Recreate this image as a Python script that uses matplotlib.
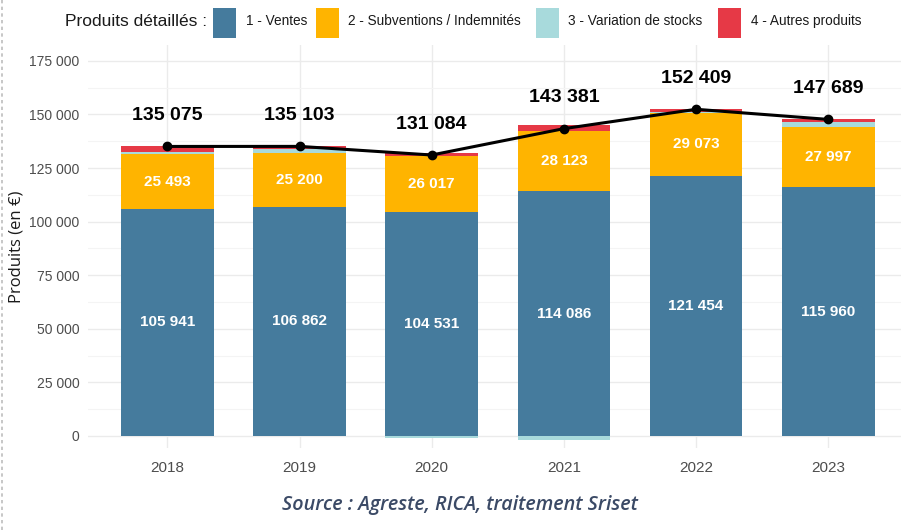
import matplotlib
matplotlib.use("Agg")
import matplotlib.pyplot as plt
from matplotlib.patches import Rectangle
from matplotlib.lines import Line2D
import numpy as np

years = ["2018", "2019", "2020", "2021", "2022", "2023"]
ventes = [105941, 106862, 104531, 114086, 121454, 115960]
subventions = [25493, 25200, 26017, 28123, 29073, 27997]
stocks = [900, 1800, -1000, -1900, 400, 2500]
autres = [2741, 1241, 1536, 3072, 1482, 1232]
totals = [135075, 135103, 131084, 143381, 152409, 147689]
series_names = ["1 - Ventes", "2 - Subventions / Indemnités", "3 - Variation de stocks", "4 - Autres produits"]
colors = ["#457b9d", "#ffb400", "#a8dadc", "#e63946"]
yticks = [0, 25000, 50000, 75000, 100000, 125000, 150000, 175000]

def fmt(v):
    return f"{v:,}".replace(",", " ")

W, H = 901, 530
fig = plt.figure(figsize=(W / 100, H / 100), dpi=100)
# axes in pixel coords: left 88, right 901, top 45, bottom 448
ax = fig.add_axes([88 / W, 1 - 448 / H, (901 - 88) / W, (448 - 45) / H])

x = np.arange(len(years))
bw = 0.7
v = np.array(ventes); s = np.array(subventions); st = np.array(stocks); au = np.array(autres)
ax.bar(x, v, bw, color=colors[0], zorder=2)
ax.bar(x, s, bw, bottom=v, color=colors[1], zorder=2)
pos_st = np.where(st > 0, st, 0)
neg_st = np.where(st < 0, st, 0)
ax.bar(x, pos_st, bw, bottom=v + s, color=colors[2], zorder=2)
ax.bar(x, neg_st, bw, bottom=0, color=colors[2], zorder=2)
ax.bar(x, au, bw, bottom=v + s + pos_st, color=colors[3], zorder=2)

ax.plot(x, totals, color="black", lw=2.2, marker="o", ms=6, zorder=4)

for i in range(len(years)):
    ax.text(x[i], v[i] / 2, fmt(ventes[i]), ha="center", va="center", color="white",
            fontsize=11, fontweight="bold", family="Liberation Sans", zorder=5)
    ax.text(x[i], v[i] + s[i] / 2, fmt(subventions[i]), ha="center", va="center", color="white",
            fontsize=11, fontweight="bold", family="Liberation Sans", zorder=5)
    ax.annotate(fmt(totals[i]), (x[i], totals[i]), xytext=(0, 31), textcoords="offset pixels",
                ha="center", va="center", fontsize=14, fontweight="bold", family="Liberation Sans",
                color="black", zorder=5)

ax.set_xlim(-0.6, 5.55)
ax.set_ylim(-5600, 182400)
ax.set_yticks(yticks)
ax.set_yticklabels([fmt(t) for t in yticks], family="Liberation Sans", fontsize=10, color="#4d4d4d")
ax.set_yticks(np.arange(12500, 175000, 25000), minor=True)
ax.set_xticks(x)
ax.set_xticklabels(years, family="Liberation Sans", fontsize=11, color="#4d4d4d")
ax.tick_params(axis="y", which="both", length=0, pad=6)
ax.tick_params(axis="x", length=0, pad=9)
ax.grid(axis="y", which="major", color="#ebebeb", lw=1, zorder=0)
ax.grid(axis="y", which="minor", color="#f4f4f4", lw=0.8, zorder=0)
ax.grid(axis="x", which="major", color="#ebebeb", lw=1, zorder=0)
for sp in ax.spines.values():
    sp.set_visible(False)
ax.set_ylabel("Produits (en €)", family="Open Sans", fontsize=12, color="#1a1a1a")
ax.yaxis.set_label_coords((25 - 88) / (901 - 88), 0.5)

# legend (manual, pixel positions)
def fx(px):
    return px / W
def fy(py):
    return 1 - py / H

fig.text(fx(65), fy(21), "Produits détaillés :", family="Liberation Sans", fontsize=12.5, color="#1a1a1a",
         ha="left", va="center")
box_x = [213, 316, 536, 718]
txt_x = [246, 348, 568, 751]
for c, bx, tx, name in zip(colors, box_x, txt_x, series_names):
    fig.patches.append(Rectangle((fx(bx), fy(38)), 23 / W, 30 / H, transform=fig.transFigure,
                                 facecolor=c, edgecolor="none"))
    fig.text(fx(tx), fy(21), name, family="Liberation Sans", fontsize=9.8, color="#1a1a1a",
             ha="left", va="center")

fig.text(fx(460), fy(505), "Source : Agreste, RICA, traitement Sriset", family="Open Sans",
         style="italic", fontweight="semibold", fontsize=14.2, color="#3b4a66", ha="center", va="center")

fig.lines.append(Line2D([fx(1.5), fx(1.5)], [0, 1], transform=fig.transFigure, color="#bdbdbd",
                        lw=1.2, ls=(0, (2, 2))))

fig.savefig("out.png", dpi=100)
